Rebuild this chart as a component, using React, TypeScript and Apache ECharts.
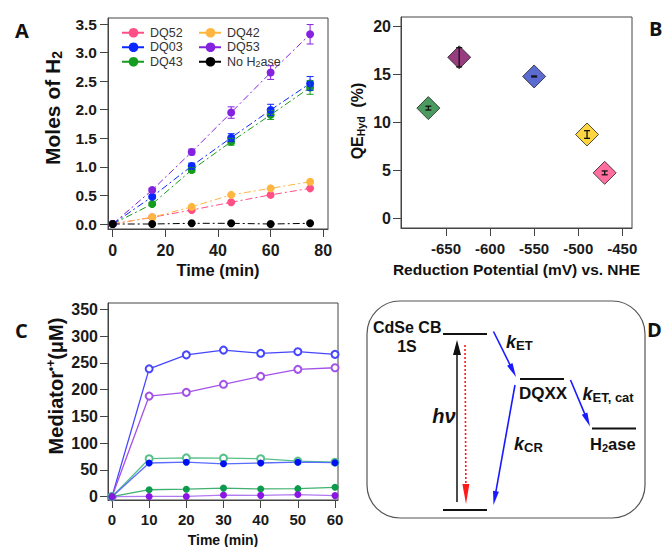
import React, { useEffect, useRef } from "react";
import * as echarts from "echarts";

// ---------- Panel A : moles of H2 vs time ----------
const timeA = [0, 15, 30, 45, 60, 75];
const dq52 = [0, 0.117, 0.245, 0.38, 0.51, 0.624];
const dq42 = [0, 0.117, 0.3, 0.51, 0.624, 0.74];
const dq03 = [0, 0.478, 1.015, 1.51, 1.995, 2.46];
const dq53 = [0, 0.595, 1.26, 1.95, 2.65, 3.32];
const dq43 = [0, 0.35, 0.945, 1.44, 1.91, 2.39];
const noH2ase = [0, 0, 0.012, 0.012, 0, 0.012];
const errDq03 = [0, 0.03, 0.05, 0.07, 0.1, 0.12];
const errDq53 = [0, 0.03, 0.05, 0.1, 0.12, 0.17];
const errDq43 = [0, 0.02, 0.04, 0.06, 0.08, 0.12];
const ticksAx = [0, 20, 40, 60, 80];
const ticksAy = [0, 0.5, 1, 1.5, 2, 2.5, 3, 3.5];

// ---------- Panel B : QE vs reduction potential ----------
const potentialB = [-670, -635, -550, -490, -470];
const qeB = [11.5, 16.8, 14.8, 8.75, 4.75];
const qeErrB = [0.2, 1.0, 0.05, 0.4, 0.2];
const ticksBx = [-650, -600, -550, -500, -450];
const ticksBy = [0, 5, 10, 15, 20];

// ---------- Panel C : mediator radical vs time ----------
const timeC = [0, 10, 20, 30, 40, 50, 60];
const blueOpen = [0, 239, 265, 274, 268, 271, 266];
const purpleOpen = [0, 188, 195, 210, 225, 238, 241];
const greenOpen = [0, 71, 72.5, 72, 71, 66.5, 64.5];
const blueFilled = [0, 63, 64.5, 61.5, 63, 64.5, 63.5];
const greenFilled = [0, 13, 14, 16, 14.5, 15, 17.5];
const purpleFilled = [0, 0.5, 0.5, 3, 2.5, 4, 2];
const ticksCx = [0, 10, 20, 30, 40, 50, 60];
const ticksCy = [0, 50, 100, 150, 200, 250, 300, 350];

const FONT = "'Liberation Sans', Arial, Helvetica, sans-serif";
const AXIS = "#444";

const zip = (xs: number[], ys: number[]) => xs.map((x, i) => [x, ys[i]]);

function errorSeries(
  name: string,
  xs: number[],
  ys: number[],
  errs: number[],
  color: string,
  xi: number,
  cap: number,
  lw: number
) {
  return {
    type: "custom",
    name,
    xAxisIndex: xi,
    yAxisIndex: xi,
    z: 4,
    silent: true,
    data: xs.map((x, i) => [x, ys[i], errs[i]]),
    renderItem: (_p: any, api: any) => {
      const x = api.value(0);
      const y = api.value(1);
      const e = api.value(2);
      if (!e) return { type: "group", children: [] };
      const hi = api.coord([x, y + e]);
      const lo = api.coord([x, y - e]);
      const style = { stroke: color, lineWidth: lw };
      return {
        type: "group",
        children: [
          { type: "line", shape: { x1: hi[0], y1: hi[1], x2: lo[0], y2: lo[1] }, style },
          { type: "line", shape: { x1: hi[0] - cap, y1: hi[1], x2: hi[0] + cap, y2: hi[1] }, style },
          { type: "line", shape: { x1: lo[0] - cap, y1: lo[1], x2: lo[0] + cap, y2: lo[1] }, style },
        ],
      };
    },
  };
}

function axisPair(
  gi: number,
  xmin: number,
  xmax: number,
  xt: number[],
  ymin: number,
  ymax: number,
  yt: number[],
  o: any
) {
  const common = (ticks: number[], fs: number, margin: number, fmt?: (v: number) => string) => ({
    gridIndex: gi,
    type: "value",
    axisLine: { show: true, onZero: false, lineStyle: { color: AXIS, width: 1 } },
    axisTick: { show: true, inside: false, length: 8, customValues: ticks, lineStyle: { color: AXIS, width: 1 } },
    axisLabel: {
      customValues: ticks,
      margin,
      fontSize: fs,
      fontWeight: "bold",
      color: "#1a1a1a",
      fontFamily: FONT,
      formatter: fmt,
    },
    splitLine: { show: false },
    minorTick: { show: false },
  });
  return {
    x: { ...common(xt, o.xfs, o.xm), min: xmin, max: xmax },
    y: { ...common(yt, o.yfs, o.ym, o.yfmt), min: ymin, max: ymax },
  };
}

function arrowHead(tipX: number, tipY: number, fromX: number, fromY: number, len: number, w: number, color: string) {
  const dx = tipX - fromX;
  const dy = tipY - fromY;
  const L = Math.hypot(dx, dy);
  const ux = dx / L;
  const uy = dy / L;
  const bx = tipX - ux * len;
  const by = tipY - uy * len;
  const px = -uy;
  const py = ux;
  return {
    type: "polygon",
    shape: {
      points: [
        [tipX, tipY],
        [bx + (px * w) / 2, by + (py * w) / 2],
        [bx - (px * w) / 2, by - (py * w) / 2],
      ],
    },
    style: { fill: color },
  };
}

function arrow(x1: number, y1: number, x2: number, y2: number, color: string, lw: number, len: number, w: number, dash?: number[]) {
  const dx = x2 - x1;
  const dy = y2 - y1;
  const L = Math.hypot(dx, dy);
  const ex = x2 - (dx / L) * (len - 2);
  const ey = y2 - (dy / L) * (len - 2);
  return [
    {
      type: "line",
      shape: { x1, y1, x2: ex, y2: ey },
      style: { stroke: color, lineWidth: lw, lineDash: dash },
    },
    arrowHead(x2, y2, x1, y1, len, w, color),
  ];
}

function txt(x: number, y: number, text: string, font: string, extra: any = {}) {
  return {
    type: "text",
    x,
    y,
    style: {
      text,
      font,
      fill: "#111",
      align: extra.align || "left",
      verticalAlign: "middle",
      rich: extra.rich,
    },
    rotation: extra.rotation || 0,
  };
}

export default function App() {
  const ref = useRef<HTMLDivElement>(null);

  useEffect(() => {
    document.body.style.margin = "0";
    if (!ref.current) return;
    const chart = echarts.init(ref.current, null, { renderer: "svg" });

    const A = axisPair(0, -1.8, 81.8, ticksAx, -0.0875, 3.605, ticksAy, {
      xfs: 16,
      xm: 13,
      yfs: 15.5,
      ym: 11,
      yfmt: (v: number) => v.toFixed(1),
    });
    const B = axisPair(1, -701, -439, ticksBx, -1, 21, ticksBy, { xfs: 15, xm: 13, yfs: 16, ym: 10 });
    const C = axisPair(2, -1.07, 60.8, ticksCx, -6.2, 362, ticksCy, { xfs: 15, xm: 12, yfs: 16, ym: 10 });

    const dashDot = [7, 3, 2, 3];
    const lineA = (name: string, ys: number[], color: string) => ({
      type: "line",
      name,
      xAxisIndex: 0,
      yAxisIndex: 0,
      data: zip(timeA, ys),
      symbol: "circle",
      symbolSize: 8,
      clip: false,
      itemStyle: { color },
      lineStyle: { color, width: 1, type: dashDot },
      z: 3,
    });

    const lineC = (name: string, ys: number[], color: string, lineColor: string, open: boolean) => ({
      type: "line",
      name,
      xAxisIndex: 2,
      yAxisIndex: 2,
      data: zip(timeC, ys),
      symbol: open ? "emptyCircle" : "circle",
      symbolSize: 7,
      clip: false,
      itemStyle: open ? { color, borderColor: color, borderWidth: 1.2 } : { color },
      lineStyle: { color: lineColor, width: 1.3 },
    });

    const colorsB = ["#1e8239", "#7d0b5f", "#3346c4", "#ffcc12", "#ff4a86"];

    const legendCommon = {
      orient: "vertical",
      itemWidth: 23,
      itemHeight: 12,
      itemGap: 1,
      selectedMode: false,
      textStyle: {
        fontFamily: FONT,
        fontSize: 12.5,
        color: "#333",
        lineHeight: 13.5,
        rich: { s: { fontSize: 9, lineHeight: 8, verticalAlign: "bottom", fontFamily: FONT, color: "#333" } },
      },
      formatter: (n: string) => (n === "No H2ase" ? "No H{s|2}ase" : n),
    };

    const letter = "bold 20px 'Open Sans', 'Liberation Sans', sans-serif";
    const tb = (s: number) => `bold ${s}px ${FONT}`;

    const graphic: any[] = [
      // panel letters
      txt(15, 30, "A", letter),
      txt(649, 28, "B", letter),
      txt(15, 330, "C", letter),
      txt(647, 329, "D", letter),
      // axis titles
      txt(218, 270, "Time (min)", tb(16.5), { align: "center" }),
      txt(52, 108, "{a|Moles of H}{s|2}", tb(21), {
        align: "center",
        rotation: Math.PI / 2,
        rich: {
          a: { font: tb(21), lineHeight: 24, fill: "#111" },
          s: { font: tb(14), lineHeight: 14, verticalAlign: "bottom", fill: "#111" },
        },
      }),
      txt(516.5, 269, "Reduction Potential (mV) vs. NHE", tb(15.5), { align: "center" }),
      txt(357, 121, "{a|QE}{s|Hyd}{a|  (%)}", tb(16), {
        align: "center",
        rotation: Math.PI / 2,
        rich: {
          a: { font: tb(16), lineHeight: 18, fill: "#111" },
          s: { font: tb(10.5), lineHeight: 9, verticalAlign: "bottom", fill: "#111" },
        },
      }),
      txt(223, 540, "Time (min)", tb(14), { align: "center" }),
      txt(56, 386, "{a|Mediator}{p|•+}{a|(μM)}", tb(20), {
        align: "center",
        rotation: Math.PI / 2,
        rich: {
          a: { font: tb(20), lineHeight: 22, fill: "#111" },
          p: { font: tb(12), lineHeight: 11, verticalAlign: "top", fill: "#111" },
        },
      }),
      // panel D box
      {
        type: "rect",
        shape: { x: 367, y: 301, width: 278, height: 217, r: 33 },
        style: { fill: "none", stroke: "#555", lineWidth: 1.2 },
      },
      // energy levels
      { type: "line", shape: { x1: 443, y1: 334, x2: 487, y2: 334 }, style: { stroke: "#111", lineWidth: 2 } },
      { type: "line", shape: { x1: 443, y1: 510, x2: 487, y2: 510 }, style: { stroke: "#111", lineWidth: 2 } },
      { type: "line", shape: { x1: 520, y1: 379, x2: 564, y2: 379 }, style: { stroke: "#111", lineWidth: 2 } },
      { type: "line", shape: { x1: 592, y1: 428.5, x2: 636, y2: 428.5 }, style: { stroke: "#111", lineWidth: 2 } },
      // arrows
      ...arrow(457, 502, 457, 340, "#111", 1.5, 15, 8),
      ...arrow(465, 345, 466, 504, "#ff1a1a", 1.6, 20, 7, [2, 2]),
      ...arrow(493.5, 331.5, 516, 377, "#1a1aff", 1.6, 14, 6),
      ...arrow(515, 385, 493.5, 505, "#1a1aff", 1.6, 14, 6),
      ...arrow(570.5, 380, 590, 426.5, "#1a1aff", 1.6, 14, 6),
      // labels in D
      txt(373, 327.5, "CdSe CB", tb(16)),
      txt(407, 346, "1S", tb(16), { align: "center" }),
      txt(444, 416, "hν", "italic bold 20px " + FONT, { align: "center" }),
      txt(506, 342, "{k|k}{s|ET}", tb(18), {
        rich: {
          k: { font: "italic bold 18px " + FONT, lineHeight: 20, fill: "#111" },
          s: { font: tb(13), lineHeight: 13, verticalAlign: "bottom", fill: "#111" },
        },
      }),
      txt(519, 393, "DQXX", tb(17)),
      txt(582.5, 394, "{k|k}{s|ET, cat}", tb(18), {
        rich: {
          k: { font: "italic bold 18px " + FONT, lineHeight: 20, fill: "#111" },
          s: { font: tb(13), lineHeight: 13, verticalAlign: "bottom", fill: "#111" },
        },
      }),
      txt(514, 444, "{k|k}{s|CR}", tb(18), {
        rich: {
          k: { font: "italic bold 18px " + FONT, lineHeight: 20, fill: "#111" },
          s: { font: tb(13), lineHeight: 13, verticalAlign: "bottom", fill: "#111" },
        },
      }),
      txt(590, 444, "{a|H}{s|2}{a|ase}", tb(16.5), {
        rich: {
          a: { font: tb(16.5), lineHeight: 18, fill: "#111" },
          s: { font: tb(11), lineHeight: 11, verticalAlign: "bottom", fill: "#111" },
        },
      }),
    ];

    const gridCommon = { show: true, borderColor: AXIS, borderWidth: 1, containLabel: false, outerBoundsMode: "none" };

    const option: any = {
      animation: false,
      backgroundColor: "#fff",
      grid: [
        { ...gridCommon, left: 108, top: 18, width: 220, height: 211 },
        { ...gridCommon, left: 401, top: 17, width: 231, height: 211 },
        { ...gridCommon, left: 108, top: 303, width: 230, height: 197 },
      ],
      xAxis: [A.x, B.x, C.x],
      yAxis: [A.y, B.y, C.y],
      legend: [
        { ...legendCommon, left: 116, top: 21, data: ["DQ52", "DQ03", "DQ43"] },
        { ...legendCommon, left: 193, top: 21, data: ["DQ42", "DQ53", "No H2ase"] },
      ],
      series: [
        lineA("DQ52", dq52, "#ff4f86"),
        lineA("DQ42", dq42, "#ffb640"),
        lineA("DQ43", dq43, "#169c1e"),
        lineA("DQ03", dq03, "#0a28ff"),
        lineA("DQ53", dq53, "#8522e0"),
        lineA("No H2ase", noH2ase, "#000000"),
        errorSeries("errDQ43", timeA, dq43, errDq43, "#169c1e", 0, 3.5, 1),
        errorSeries("errDQ03", timeA, dq03, errDq03, "#0a28ff", 0, 3.5, 1),
        errorSeries("errDQ53", timeA, dq53, errDq53, "#8522e0", 0, 3.5, 1),
        {
          type: "scatter",
          name: "QE",
          xAxisIndex: 1,
          yAxisIndex: 1,
          symbol: "diamond",
          symbolSize: [23, 23],
          clip: false,
          data: potentialB.map((x, i) => ({
            value: [x, qeB[i]],
            itemStyle: { color: colorsB[i], borderColor: "#222", borderWidth: 1 },
          })),
          z: 3,
        },
        errorSeries("errQE", potentialB, qeB, qeErrB, "#111", 1, 3, 1.3),
        lineC("blueOpen", blueOpen, "#4646ff", "#4646ff", true),
        lineC("purpleOpen", purpleOpen, "#a452e8", "#a452e8", true),
        lineC("greenOpen", greenOpen, "#56c08a", "#56c08a", true),
        lineC("blueFilled", blueFilled, "#0010f0", "#5a6cff", false),
        lineC("greenFilled", greenFilled, "#0b9a4e", "#40b070", false),
        lineC("purpleFilled", purpleFilled, "#8a16e6", "#b27af0", false),
      ],
      graphic,
    };

    chart.setOption(option);
    return () => chart.dispose();
  }, []);

  return (
    <div
      ref={ref}
      style={{ position: "absolute", left: 0, top: 0, width: 664, height: 547, background: "#fff" }}
    />
  );
}
